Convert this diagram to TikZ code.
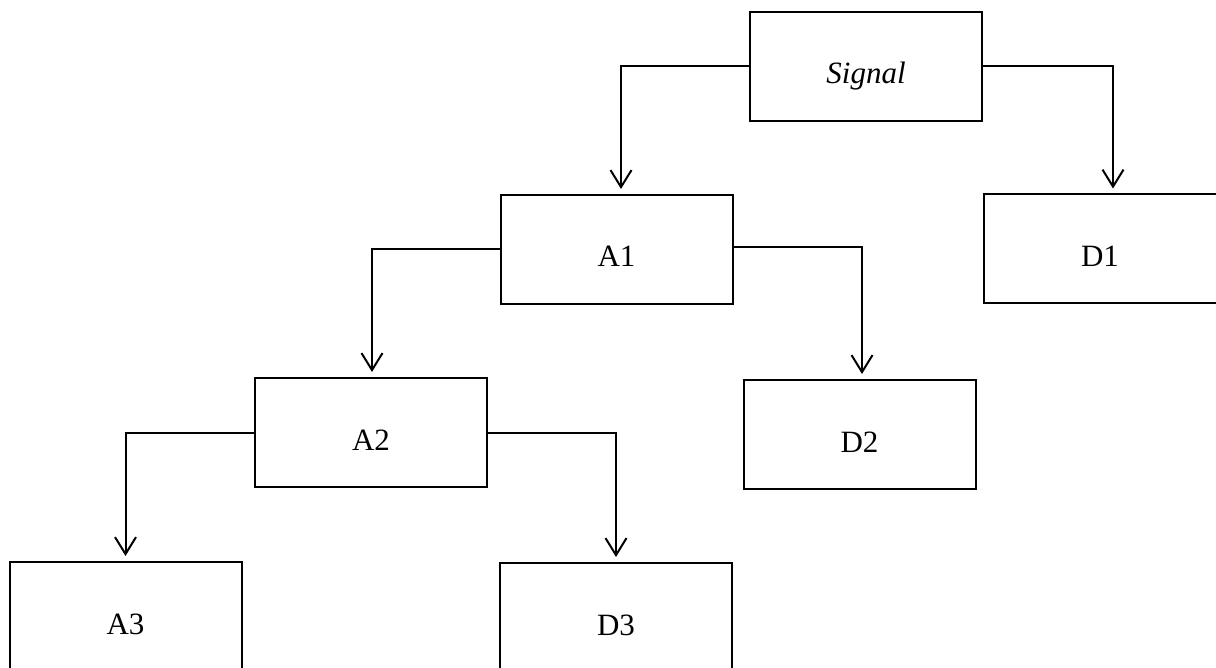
\documentclass[tikz,border=0pt]{standalone}
\usepackage{fontspec}
\setmainfont{Liberation Serif}
\usetikzlibrary{arrows.meta}
\begin{document}
\begin{tikzpicture}[x=1pt,y=-1pt,
  box/.style={draw, line width=2pt, minimum width=232pt, minimum height=109pt,
    inner sep=0pt, text height=35pt, text depth=0pt,
    font=\fontsize{31}{36}\selectfont},
  conn/.style={draw, line width=2pt, shorten >=5pt,
    -{Straight Barb[length=17pt,width=21pt,line width=2pt]}}]
\useasboundingbox (0,0) rectangle (1216,668);
\clip (0,0) rectangle (1216,668);
\node[box] (sig) at (866,66.5) {\itshape Signal};
\node[box] (a1) at (616.5,249.5) {A1};
\node[box, minimum width=238pt] (d1) at (1103,249) {\hspace*{-6pt}D1};
\node[box] (a2) at (371,432.5) {A2};
\node[box] (d2) at (859.5,434.5) {D2};
\node[box] (a3) at (125.5,616.5) {A3};
\node[box] (d3) at (616,617.5) {D3};
\draw[conn] (sig.west) -| ([xshift=4.5pt]a1.north);
\draw[conn] (sig.east) -| ([xshift=10pt]d1.north);
\draw[conn] (a1.west) -| ([xshift=1pt]a2.north);
\draw[conn] ([yshift=2pt]a1.east) -| ([xshift=2.5pt]d2.north);
\draw[conn] (a2.west) -| (a3.north);
\draw[conn] (a2.east) -| (d3.north);
\end{tikzpicture}
\end{document}
